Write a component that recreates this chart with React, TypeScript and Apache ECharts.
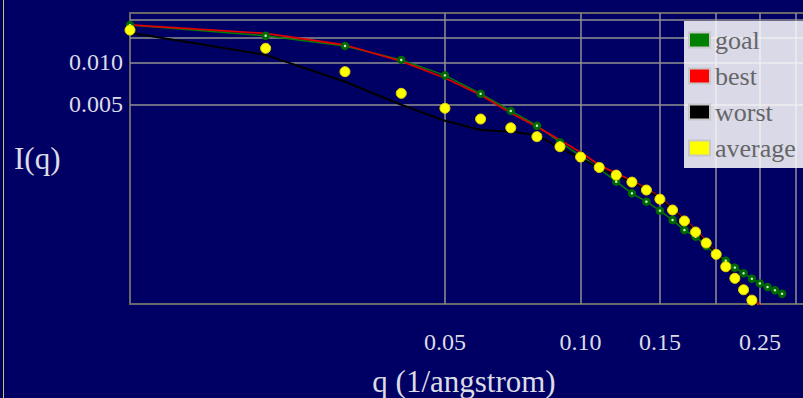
import React, { useEffect, useRef } from "react";
import * as echarts from "echarts";

// q values (1/angstrom)
const qValues = [
  0.01, 0.02, 0.03, 0.04, 0.05, 0.06, 0.07, 0.08, 0.09, 0.1,
  0.11, 0.12, 0.13, 0.14, 0.15, 0.16, 0.17, 0.18, 0.19, 0.2,
  0.21, 0.22, 0.23, 0.24, 0.25, 0.26, 0.27, 0.28,
];

const goalValues = [
  0.0185, 0.0155, 0.0131, 0.0104, 0.00807, 0.00596, 0.00449, 0.00352, 0.00268, 0.00215,
  0.00174, 0.0014, 0.001156, 0.001007, 0.000868, 0.000745, 0.000631, 0.000566, 0.000485, 0.000422,
  0.000381, 0.00034, 0.00031, 0.000283, 0.000262, 0.000247, 0.000234, 0.000221,
];

const bestValues = [
  0.0185, 0.0161, 0.0133, 0.0102, 0.00772, 0.00584, 0.00434, 0.00346, 0.00278, 0.00227,
  0.00184, 0.00161, 0.00142, 0.00125, 0.00108, 0.0009, 0.000753, 0.000632, 0.000524, 0.000435,
  0.000357, 0.000293, 0.000244, 0.000204, 0.000184,
];

const worstValues = [
  0.0163, 0.0113, 0.00726, 0.00497, 0.00382, 0.00328, 0.00319, 0.00302, 0.00243, 0.00206,
  0.00175, 0.00155, 0.00139, 0.00123, 0.00106, 0.000885, 0.000739, 0.000616, 0.000514, 0.000429,
  0.000355, 0.000292, 0.000241, 0.000202, 0.000169,
];

const averageValues = [
  0.017, 0.0126, 0.00857, 0.006, 0.00469, 0.00393, 0.0034, 0.00294, 0.00249, 0.0021,
  0.00177, 0.00156, 0.00139, 0.00122, 0.00105, 0.000878, 0.000733, 0.000611, 0.00051, 0.000423,
  0.000345, 0.000285, 0.000236, 0.000199,
];

const xGridValues = [0.05, 0.1, 0.15, 0.2, 0.25, 0.3];
const xLabelValues = [0.05, 0.1, 0.15, 0.25];
const yGridValues = [0.005, 0.01, 0.015, 0.02];
const yLabelValues = [0.005, 0.01];

const seriesNames = ["goal", "best", "worst", "average"];
const seriesColors = ["#008000", "#ff0000", "#000000", "#ffff00"];

const pairs = (vals: number[]) => vals.map((v, i) => [qValues[i], v]);

const FONT = "'Liberation Serif', 'Times New Roman', serif";

export default function App() {
  const ref = useRef<HTMLDivElement>(null);

  useEffect(() => {
    document.body.style.margin = "0";
    document.body.style.background = "#000064";
    if (!ref.current) return;
    const chart = echarts.init(ref.current, undefined, { renderer: "svg" });

    chart.setOption({
      animation: false,
      backgroundColor: "#000064",
      grid: {
        left: 130,
        top: 13,
        width: 678,
        height: 291,
        show: true,
        borderColor: "#686868",
        borderWidth: 2,
        backgroundColor: "transparent",
        containLabel: false,
        outerBoundsMode: "none",
      },
      xAxis: {
        type: "log",
        logBase: 10,
        min: 0.01,
        max: 0.3197,
        axisLine: { show: false },
        axisTick: { show: false, customValues: xGridValues },
        minorTick: { show: false },
        minorSplitLine: { show: false },
        splitLine: { show: true, lineStyle: { color: "#909090", width: 1.5 } },
        axisLabel: {
          customValues: xLabelValues,
          formatter: (v: number) => v.toFixed(2),
          margin: 26,
          color: "#dcdce4",
          fontSize: 24,
          fontFamily: FONT,
        },
      },
      yAxis: {
        type: "log",
        logBase: 10,
        min: 0.0001867,
        max: 0.02253,
        axisLine: { show: false },
        axisTick: { show: false, customValues: yGridValues },
        minorTick: { show: false },
        minorSplitLine: { show: false },
        splitLine: { show: true, lineStyle: { color: "#909090", width: 1.5 } },
        axisLabel: {
          customValues: yLabelValues,
          formatter: (v: number) => v.toFixed(3),
          margin: 7,
          color: "#dcdce4",
          fontSize: 24,
          fontFamily: FONT,
        },
      },
      legend: {
        orient: "vertical",
        left: 684,
        top: 21,
        padding: [6, 12, 7, 4],
        itemGap: 10,
        itemWidth: 21,
        itemHeight: 15,
        icon: "rect",
        selectedMode: false,
        backgroundColor: "rgba(255,255,255,0.85)",
        textStyle: { color: "#666666", fontSize: 26, fontFamily: FONT, lineHeight: 26 },
        data: seriesNames.map((name, i) => ({
          name,
          itemStyle: { color: seriesColors[i], borderColor: "#c8c8c8", borderWidth: 2 },
        })),
      },
      graphic: [
        {
          type: "rect",
          shape: { x: 3, y: 0, width: 1, height: 398 },
          style: { fill: "#c8c860" },
          silent: true,
        },
        {
          type: "text",
          x: 14,
          y: 158,
          style: {
            text: "I(q)",
            fill: "#dcdce4",
            font: `31px ${FONT}`,
            textAlign: "left",
            textVerticalAlign: "middle",
          },
          silent: true,
        },
        {
          type: "text",
          x: 464,
          y: 381,
          style: {
            text: "q (1/angstrom)",
            fill: "#dcdce4",
            font: `31px ${FONT}`,
            textAlign: "center",
            textVerticalAlign: "middle",
          },
          silent: true,
        },
      ],
      series: [
        {
          name: "goal",
          type: "line",
          z: 2,
          data: pairs(goalValues),
          symbol: "circle",
          symbolSize: 5.5,
          showSymbol: true,
          showAllSymbol: true,
          itemStyle: { color: "#c8f0c8", borderColor: "#006800", borderWidth: 3, opacity: 1 },
          lineStyle: { color: "#008000", width: 1.5 },
          emphasis: { disabled: true },
        },
        {
          name: "best",
          type: "line",
          z: 2,
          data: pairs(bestValues),
          symbol: "none",
          itemStyle: { color: "#ff0000" },
          lineStyle: { color: "#e00000", width: 1.8 },
          emphasis: { disabled: true },
        },
        {
          name: "worst",
          type: "line",
          z: 2,
          data: pairs(worstValues),
          symbol: "none",
          itemStyle: { color: "#000000" },
          lineStyle: { color: "#000000", width: 2 },
          emphasis: { disabled: true },
        },
        {
          name: "average",
          type: "scatter",
          z: 5,
          data: pairs(averageValues),
          symbol: "circle",
          symbolSize: 10,
          itemStyle: { color: "#ffff00", borderColor: "#e8d800", borderWidth: 1, opacity: 1 },
          emphasis: { disabled: true },
        },
      ],
    });

    return () => chart.dispose();
  }, []);

  return <div ref={ref} style={{ width: 803, height: 398 }} />;
}
